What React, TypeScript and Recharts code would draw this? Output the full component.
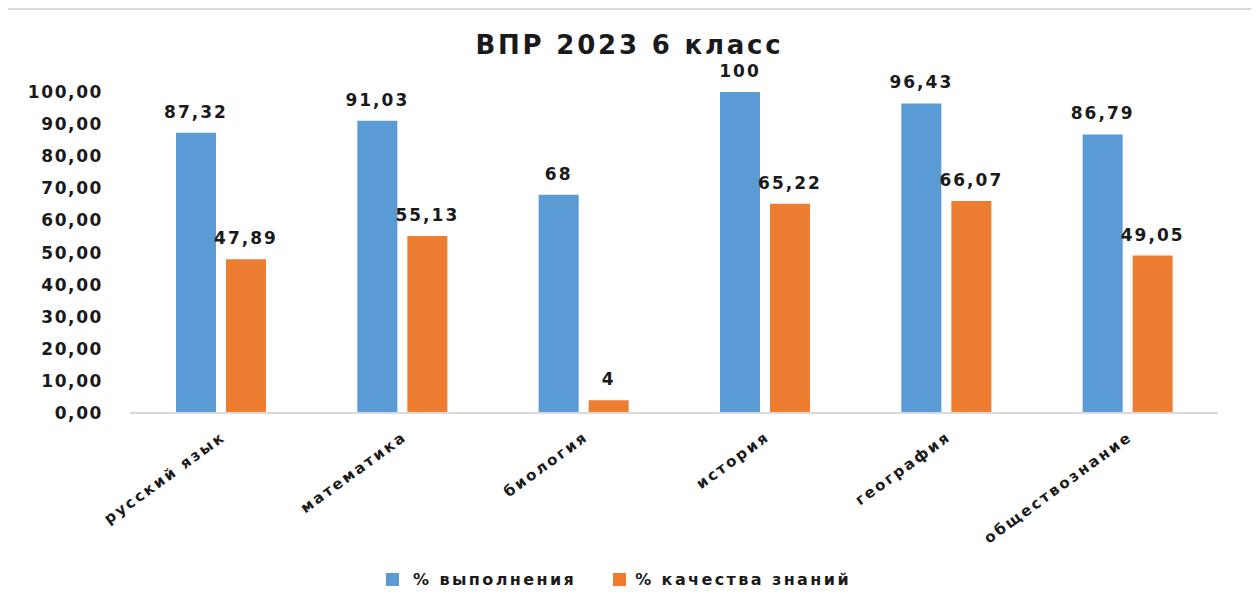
import React from "react";
import { BarChart, Bar, XAxis, YAxis, LabelList } from "recharts";

const subjects = ["русский язык", "математика", "биология", "история", "география", "обществознание"];
const completion = [87.32, 91.03, 68, 100, 96.43, 86.79];
const quality = [47.89, 55.13, 4, 65.22, 66.07, 49.05];
const yTicks = [0, 10, 20, 30, 40, 50, 60, 70, 80, 90, 100];

const seriesNames = ["% выполнения", "% качества знаний"];
const colors = ["#5B9BD5", "#ED7D31"];

const data = subjects.map((s, i) => ({ name: s, a: completion[i], b: quality[i] }));

const font = "'DejaVu Sans', Verdana, sans-serif";
const textStyle = { fontFamily: font, fontWeight: 700, fill: "#1a1a1a", letterSpacing: 1.6 };

const fmtLabel = (v: any) => String(v).replace(".", ",");

function XTick({ x, y, payload }: any) {
  return (
    <g transform={`translate(${x + 6},${y + 18})`}>
      <text textAnchor="end" transform="rotate(-36)" fontSize={15} style={{ ...textStyle, letterSpacing: 2.4 }}>
        {payload.value}
      </text>
    </g>
  );
}

export default function App() {
  return (
    <div style={{ position: "relative", width: 1259, height: 610, margin: -8, overflow: "hidden", background: "#fff" }}>
      <div
        style={{
          position: "absolute",
          left: 5,
          top: 8,
          width: 1244,
          height: 620,
          border: "2px solid #d9d9d9",
        }}
      />
      <div
        style={{
          position: "absolute",
          top: 30,
          left: 0,
          width: 1259,
          textAlign: "center",
          fontFamily: font,
          fontWeight: 700,
          fontSize: 26,
          letterSpacing: 2.8,
          color: "#1a1a1a",
        }}
      >
        ВПР 2023 6 класс
      </div>
      <div style={{ position: "absolute", top: 0, left: 0 }}>
        <BarChart
          width={1259}
          height={610}
          data={data}
          margin={{ top: 92, right: 41, bottom: 97, left: 30 }}
          barSize={40}
          barGap={10}
        >
          <XAxis
            dataKey="name"
            interval={0}
            tickLine={false}
            axisLine={{ stroke: "#d9d9d9", strokeWidth: 2 }}
            tick={<XTick />}
            height={100}
          />
          <YAxis
            domain={[0, 100]}
            ticks={yTicks}
            interval={0}
            width={100}
            axisLine={false}
            tickLine={false}
            tickMargin={21}
            tickFormatter={(v: number) => v.toFixed(2).replace(".", ",")}
            tick={{ ...textStyle, fontSize: 17 }}
          />
          <Bar dataKey="a" fill={colors[0]} isAnimationActive={false}>
            <LabelList dataKey="a" position="top" offset={15} formatter={fmtLabel} style={{ ...textStyle, fontSize: 17, letterSpacing: 2 }} />
          </Bar>
          <Bar dataKey="b" fill={colors[1]} isAnimationActive={false}>
            <LabelList dataKey="b" position="top" offset={15} formatter={fmtLabel} style={{ ...textStyle, fontSize: 17, letterSpacing: 2 }} />
          </Bar>
        </BarChart>
      </div>
      <div
        style={{
          position: "absolute",
          top: 570,
          left: 386,
          display: "flex",
          gap: 37,
          fontFamily: font,
          fontWeight: 700,
          fontSize: 16,
          letterSpacing: 2.4,
          color: "#1a1a1a",
        }}
      >
        {seriesNames.map((n, i) => (
          <div key={n} style={{ display: "flex", alignItems: "center", gap: i === 0 ? 14 : 9 }}>
            <span style={{ display: "inline-block", width: 13, height: 13, background: colors[i] }} />
            <span>{n}</span>
          </div>
        ))}
      </div>
    </div>
  );
}
